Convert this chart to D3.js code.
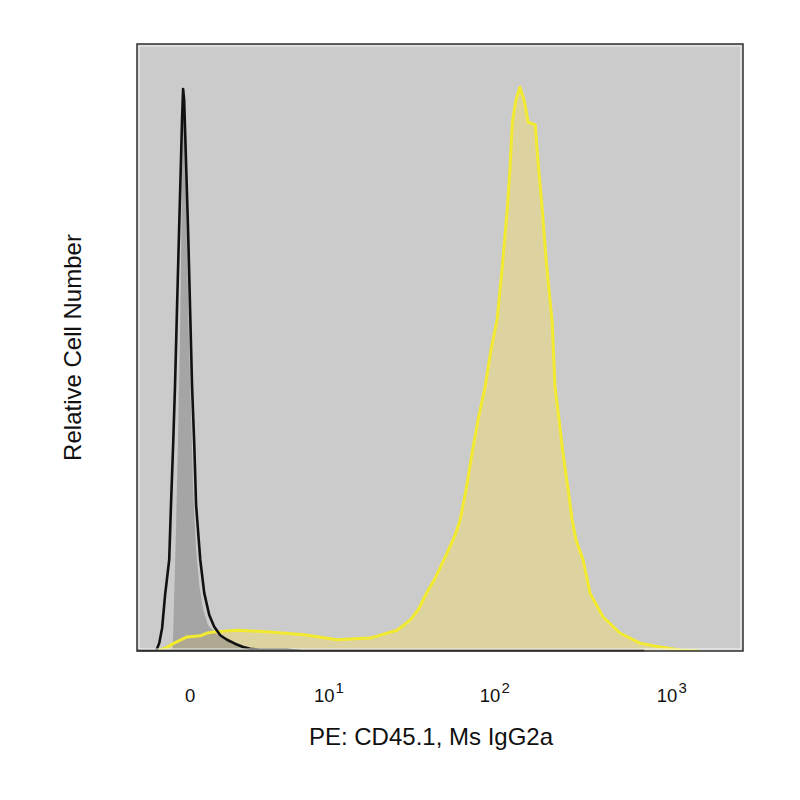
<!DOCTYPE html>
<html>
<head>
<meta charset="utf-8">
<script src="https://cdn.jsdelivr.net/npm/d3@7/dist/d3.min.js"></script>
<style>
  html, body { margin: 0; padding: 0; background: #ffffff; }
  svg { display: block; }
  text { font-family: "Liberation Sans", Arial, sans-serif; fill: #111; }
</style>
</head>
<body>
<svg id="chart" width="800" height="800"></svg>
<script>
// ---- data (fluorescence intensity, relative count in % of max) ----
const blackX = [-1.10,-0.98,-0.87,-0.76,-0.62,-0.56,-0.49,-0.43,-0.37,-0.31,-0.25,-0.22,-0.19,-0.16,-0.11,-0.05,0,0.05,0.11,0.16,0.28,0.40,0.56,0.73,0.95,1.22,1.57,1.96,2.34,2.94,4.99,6.27];
const blackY = [0,1.4,4.1,10.1,16.2,26.0,36.7,47.3,60.7,74.0,87.4,94.5,100,98.0,87.4,74.0,60.7,47.3,36.7,26.0,16.2,10.3,6.4,4.3,2.8,2.0,1.3,0.7,0.4,0.2,0.2,0];

const grayX = [-0.52,-0.49,-0.46,-0.40,-0.34,-0.28,-0.25,-0.22,-0.19,-0.13,-0.08,-0.03,0.03,0.08,0.16,0.25,0.37,0.52,0.76,1.14,1.72,2.45,3.47,4.39];
const grayY = [0,2.9,9.1,21.5,37.5,55.3,69.6,83.8,97.1,89.1,71.3,55.3,41.1,28.6,18.0,11.7,7.3,4.6,3.2,2.1,1.2,0.5,0.2,0];

const yellowX = [-1.06,-0.76,-0.46,-0.08,0.28,0.49,0.73,1.67,3.6,6.7,11.3,18.4,26.9,32.2,35.9,40.6,44.6,48.4,53.1,59.1,63.2,68.4,74.1,80.2,88.0,95.2,103,110,118,122,126,132,139,147,155,170,176,186,196,206,212,220,232,244,261,275,289,317,347,410,511,663,859,1113,1441];
const yellowY = [0,0.5,1.4,2.5,2.7,3.2,3.4,3.7,3.4,2.9,2.0,2.3,3.7,5.5,7.3,10.5,12.6,14.8,17.4,20.6,23.3,28.7,35.2,41.1,47.0,53.6,58.9,67.8,78.8,85.6,94.1,98.0,100.3,98.0,94.1,93.6,87.4,78.8,69.6,62.5,58.5,47.0,41.1,35.2,28.7,23.3,19.8,16.2,10.3,6.1,3.2,1.4,0.7,0.2,0];

const tickValues = [0, 10, 100, 1000];
const tickBase = ["0", "10", "10", "10"];
const tickExp = ["", "1", "2", "3"];
const xTitle = "PE: CD45.1, Ms IgG2a";
const yTitle = "Relative Cell Number";

// ---- layout ----
const pL = 137, pR = 743, pT = 44, pB = 651;
const svg = d3.select("#chart");

const x = d3.scaleSymlog().constant(2).domain([-1.97, 2510]).range([pL, pR]);
const y = d3.scaleLinear().domain([0, 108]).range([pB, pT]);

const zip = (xs, ys) => xs.map((v, i) => [v, ys[i]]);
const blackData = zip(blackX, blackY);
const grayData = zip(grayX, grayY);
const yellowData = zip(yellowX, yellowY);

svg.append("defs").append("clipPath").attr("id", "plotclip")
  .append("rect").attr("x", pL).attr("y", pT).attr("width", pR - pL).attr("height", pB - pT);

// plot background
svg.append("rect").attr("x", pL).attr("y", pT)
  .attr("width", pR - pL).attr("height", pB - pT)
  .attr("fill", "#cbcbcb");

const g = svg.append("g").attr("clip-path", "url(#plotclip)");

const area = d3.area().x(d => x(d[0])).y0(y(0)).y1(d => y(d[1]));
const line = d3.line().x(d => x(d[0])).y(d => y(d[1]));

// yellow filled histogram
g.append("path").datum(yellowData).attr("d", area).attr("fill", "#dcd3a0");
// gray filled histogram
g.append("path").datum(grayData).attr("d", area).attr("fill", "#7f7f7f").attr("fill-opacity", 0.5);
// yellow outline
g.append("path").datum(yellowData).attr("d", line)
  .attr("fill", "none").attr("stroke", "#f2ea30").attr("stroke-width", 3).attr("stroke-linejoin", "round");
// black outline
g.append("path").datum(blackData).attr("d", line)
  .attr("fill", "none").attr("stroke", "#111").attr("stroke-width", 2.6).attr("stroke-linejoin", "round");

// baseline
svg.append("line").attr("x1", pL).attr("x2", x(700)).attr("y1", pB - 0.5).attr("y2", pB - 0.5)
  .attr("stroke", "#111").attr("stroke-width", 2);

// frame
svg.append("rect").attr("x", pL + 2).attr("y", pT + 2)
  .attr("width", pR - pL - 4).attr("height", pB - pT - 4)
  .attr("fill", "none").attr("stroke", "#f4f4f4").attr("stroke-width", 1);
svg.append("rect").attr("x", pL).attr("y", pT)
  .attr("width", pR - pL).attr("height", pB - pT)
  .attr("fill", "none").attr("stroke", "#3a3a3a").attr("stroke-width", 1.6);

// x tick labels
const ticks = svg.append("g");
tickValues.forEach((v, i) => {
  const t = ticks.append("text")
    .attr("x", x(v)).attr("y", 702)
    .attr("text-anchor", "middle")
    .attr("font-size", 18.5);
  t.append("tspan").text(tickBase[i]);
  if (tickExp[i]) {
    t.append("tspan").attr("dy", -9).attr("dx", 1).attr("font-size", 15).text(tickExp[i]);
  }
});

// axis titles
svg.append("text").attr("x", 431).attr("y", 745)
  .attr("text-anchor", "middle").attr("font-size", 24).text(xTitle);
svg.append("text")
  .attr("transform", `translate(81, ${(pT + pB) / 2}) rotate(-90)`)
  .attr("text-anchor", "middle").attr("font-size", 24).text(yTitle);
</script>
</body>
</html>
